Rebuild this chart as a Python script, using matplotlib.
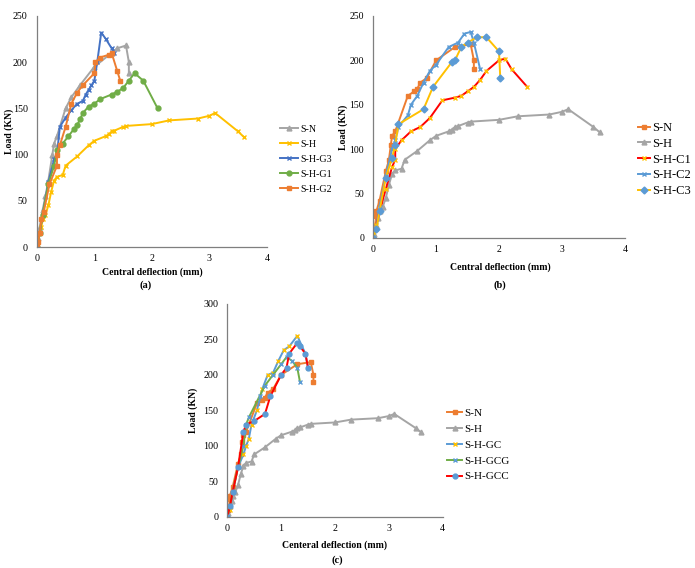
import matplotlib.pyplot as plt

plt.rcParams['font.family'] = ['Liberation Serif', 'DejaVu Serif']

# curve condivisa: S-H (uguale nei tre grafici)
sh_x = [0, 0.02, 0.05, 0.08, 0.1, 0.15, 0.2, 0.25, 0.3, 0.35, 0.45, 0.5, 0.7, 0.9, 1.0, 1.2, 1.25,
        1.3, 1.35, 1.5, 1.55, 2.0, 2.3, 2.8, 3.0, 3.1, 3.5, 3.6]
sh_y = [0, 5, 15, 22, 30, 35, 45, 60, 72, 76, 78, 88, 98, 110, 115, 120, 122,
        125, 126, 130, 131, 133, 137, 139, 142, 145, 125, 119]

# (a)
a_sn_x = [0, 0.02, 0.05, 0.1, 0.15, 0.2, 0.27, 0.3, 0.35, 0.5, 0.6, 0.75, 1.0, 1.3, 1.4, 1.55, 1.6, 1.6]
a_sn_y = [0, 10, 22, 40, 55, 72, 100, 112, 120, 150, 162, 175, 195, 210, 215, 218, 200, 188]
a_g3_x = [0, 0.05, 0.1, 0.2, 0.3, 0.35, 0.4, 0.5, 0.6, 0.7, 0.8, 0.85, 0.9, 0.95, 1.0, 1.05, 1.12, 1.2, 1.3, 1.35]
a_g3_y = [0, 15, 35, 70, 95, 100, 130, 140, 148, 155, 158, 165, 170, 175, 180, 200, 232, 225, 215, 210]
a_g1_x = [0, 0.05, 0.1, 0.2, 0.3, 0.35, 0.45, 0.55, 0.65, 0.7, 0.75, 0.8, 0.9, 1.0, 1.1, 1.3,
          1.4, 1.5, 1.6, 1.7, 1.85, 2.1]
a_g1_y = [0, 15, 35, 68, 88, 105, 112, 120, 128, 132, 138, 145, 152, 155, 160, 165,
          168, 172, 180, 188, 180, 150]
a_g2_x = [0, 0.02, 0.05, 0.08, 0.12, 0.22, 0.35, 0.35, 0.4, 0.5, 0.6, 0.7, 0.8, 1.0, 1.02, 1.1,
          1.25, 1.3, 1.4, 1.45]
a_g2_y = [0, 5, 15, 30, 38, 68, 88, 100, 110, 130, 155, 167, 175, 188, 200, 205,
          208, 210, 190, 180]

# (b)
b_sn_x = [0, 0.02, 0.05, 0.05, 0.1, 0.2, 0.25, 0.28, 0.3, 0.35, 0.55, 0.65, 0.7, 0.75, 0.85, 1.0,
          1.3, 1.55, 1.6, 1.6]
b_sn_y = [0, 10, 25, 30, 42, 75, 88, 105, 115, 120, 160, 165, 168, 175, 180, 200,
          215, 218, 200, 190]
b_c1_x = [0, 0.05, 0.1, 0.2, 0.3, 0.35, 0.35, 0.45, 0.6, 0.75, 0.9, 1.1, 1.3, 1.4, 1.5, 1.6,
          1.7, 1.8, 2.0, 2.1, 2.2, 2.45]
b_c1_y = [0, 15, 30, 55, 80, 88, 100, 110, 120, 125, 135, 155, 158, 160, 165, 170,
          178, 188, 200, 202, 190, 170]
b_c2_x = [0, 0.05, 0.1, 0.2, 0.3, 0.35, 0.4, 0.55, 0.6, 0.7, 0.8, 0.9, 1.0, 1.2, 1.35, 1.45,
          1.55, 1.6, 1.7]
b_c2_y = [0, 10, 35, 70, 100, 110, 125, 138, 150, 160, 175, 188, 195, 215, 220, 230,
          232, 220, 190]
b_c3_x = [0, 0.05, 0.1, 0.2, 0.3, 0.35, 0.4, 0.8, 0.95, 1.25, 1.3, 1.4, 1.5, 1.65, 1.8, 2.0, 2.02]
b_c3_y = [0, 10, 30, 68, 90, 105, 128, 145, 170, 198, 200, 215, 220, 226, 226, 210, 180]

# (c)
c_sn_x = b_sn_x
c_sn_y = b_sn_y
c_gc_x = [0, 0.05, 0.1, 0.2, 0.3, 0.35, 0.4, 0.45, 0.55, 0.65, 0.75, 0.85, 0.95, 1.05, 1.15,
          1.3, 1.45, 1.5]
c_gc_y = [0, 10, 35, 70, 88, 100, 110, 130, 150, 180, 200, 203, 220, 235, 240,
          255, 230, 210]
c_gcg_x = [0, 0.05, 0.1, 0.2, 0.3, 0.35, 0.4, 0.6, 0.7, 0.85, 1.0, 1.1, 1.2, 1.3, 1.35]
c_gcg_y = [0, 15, 35, 70, 100, 130, 140, 170, 185, 200, 215, 225, 220, 210, 190]
c_gcc_x = [0, 0.05, 0.1, 0.2, 0.3, 0.35, 0.5, 0.7, 0.8, 1.0, 1.1, 1.15, 1.3, 1.35, 1.45, 1.5]
c_gcc_y = [0, 15, 35, 70, 120, 130, 135, 145, 170, 200, 210, 230, 245, 240, 230, 210]

grigio = '#A5A5A5'
arancio = '#ED7D31'
oro = '#FFC000'
blu = '#4472C4'
azzurro = '#5B9BD5'
verde = '#70AD47'
rosso = '#FF0000'

fig = plt.figure(figsize=(6.95, 5.68), dpi=100)


def prepara(ax, ymax, xlabel, tick_fs, xl_pos, yl_pos):
    ax.set_xlim(0, 4)
    ax.set_ylim(0, ymax)
    ax.set_xticks([0, 1, 2, 3, 4])
    ax.set_yticks(range(0, ymax + 1, 50))
    ax.tick_params(length=0, labelsize=tick_fs)
    ax.tick_params(axis='y', pad=6.5)
    ax.tick_params(axis='x', pad=5)
    for s in ['top', 'right']:
        ax.spines[s].set_visible(False)
    for s in ['left', 'bottom']:
        ax.spines[s].set_color('#7F7F7F')
        ax.spines[s].set_linewidth(0.9)
    ax.set_xlabel(xlabel, fontsize=7, fontweight='bold')
    ax.set_ylabel('Load (KN)', fontsize=7, fontweight='bold')
    ax.xaxis.set_label_coords(*xl_pos)
    ax.yaxis.set_label_coords(*yl_pos)


def serie(ax, x, y, label, colore, marker, mcol=None):
    if mcol is None:
        mcol = colore
    ax.plot(x, y, color=colore, lw=1.4, marker=marker, ms=3.5, mfc=mcol, mec=mcol,
            mew=1.0, label=label)


def legenda(ax, pos, fs, hl, sp):
    h, l = ax.get_legend_handles_labels()
    fig.legend(h, l, loc='center left', bbox_to_anchor=pos, bbox_transform=fig.transFigure,
               frameon=False, fontsize=fs, handlelength=hl, handletextpad=0.2,
               labelspacing=sp, borderpad=0, borderaxespad=0)


# grafico (a)
ax1 = fig.add_axes([0.053, 0.565, 0.331, 0.407])
serie(ax1, a_sn_x, a_sn_y, 'S-N', grigio, '^')
serie(ax1, sh_x, sh_y, 'S-H', oro, 'x')
serie(ax1, a_g3_x, a_g3_y, 'S-H-G3', blu, 'x')
serie(ax1, a_g1_x, a_g1_y, 'S-H-G1', verde, 'o')
serie(ax1, a_g2_x, a_g2_y, 'S-H-G2', arancio, 's')
prepara(ax1, 250, 'Central deflection (mm)', 7.2, (0.5, -0.089), (-0.098, 0.5))
legenda(ax1, (0.403, 0.720), 7.2, 1.8, 0.6)
fig.text(0.210, 0.498, '(a)', ha='center', va='center', fontsize=7.5, fontweight='bold')

# grafico (b)
ax2 = fig.add_axes([0.537, 0.581, 0.362, 0.391])
serie(ax2, b_sn_x, b_sn_y, 'S-N', arancio, 's')
serie(ax2, sh_x, sh_y, 'S-H', grigio, '^')
serie(ax2, b_c1_x, b_c1_y, 'S-H-C1', rosso, 'x', oro)
serie(ax2, b_c2_x, b_c2_y, 'S-H-C2', azzurro, 'x')
serie(ax2, b_c3_x, b_c3_y, 'S-H-C3', oro, 'D', azzurro)
prepara(ax2, 250, 'Central deflection (mm)', 7, (0.504, -0.110), (-0.101, 0.5))
legenda(ax2, (0.918, 0.719), 9, 0.95, 0.3)
fig.text(0.719, 0.498, '(b)', ha='center', va='center', fontsize=7.5, fontweight='bold')

# grafico (c)
ax3 = fig.add_axes([0.327, 0.090, 0.310, 0.375])
serie(ax3, c_sn_x, c_sn_y, 'S-N', arancio, 's')
serie(ax3, sh_x, sh_y, 'S-H', grigio, '^')
serie(ax3, c_gc_x, c_gc_y, 'S-H-GC', azzurro, 'x', oro)
serie(ax3, c_gcg_x, c_gcg_y, 'S-H-GCG', verde, 'x', azzurro)
serie(ax3, c_gcc_x, c_gcc_y, 'S-H-GCC', rosso, 'o', azzurro)
prepara(ax3, 300, 'Centeral deflection (mm)', 7.2, (0.5, -0.110), (-0.137, 0.5))
legenda(ax3, (0.643, 0.217), 8, 1.4, 0.55)
fig.text(0.485, 0.014, '(c)', ha='center', va='center', fontsize=7.5, fontweight='bold')

fig.savefig('out.png', dpi=100)
